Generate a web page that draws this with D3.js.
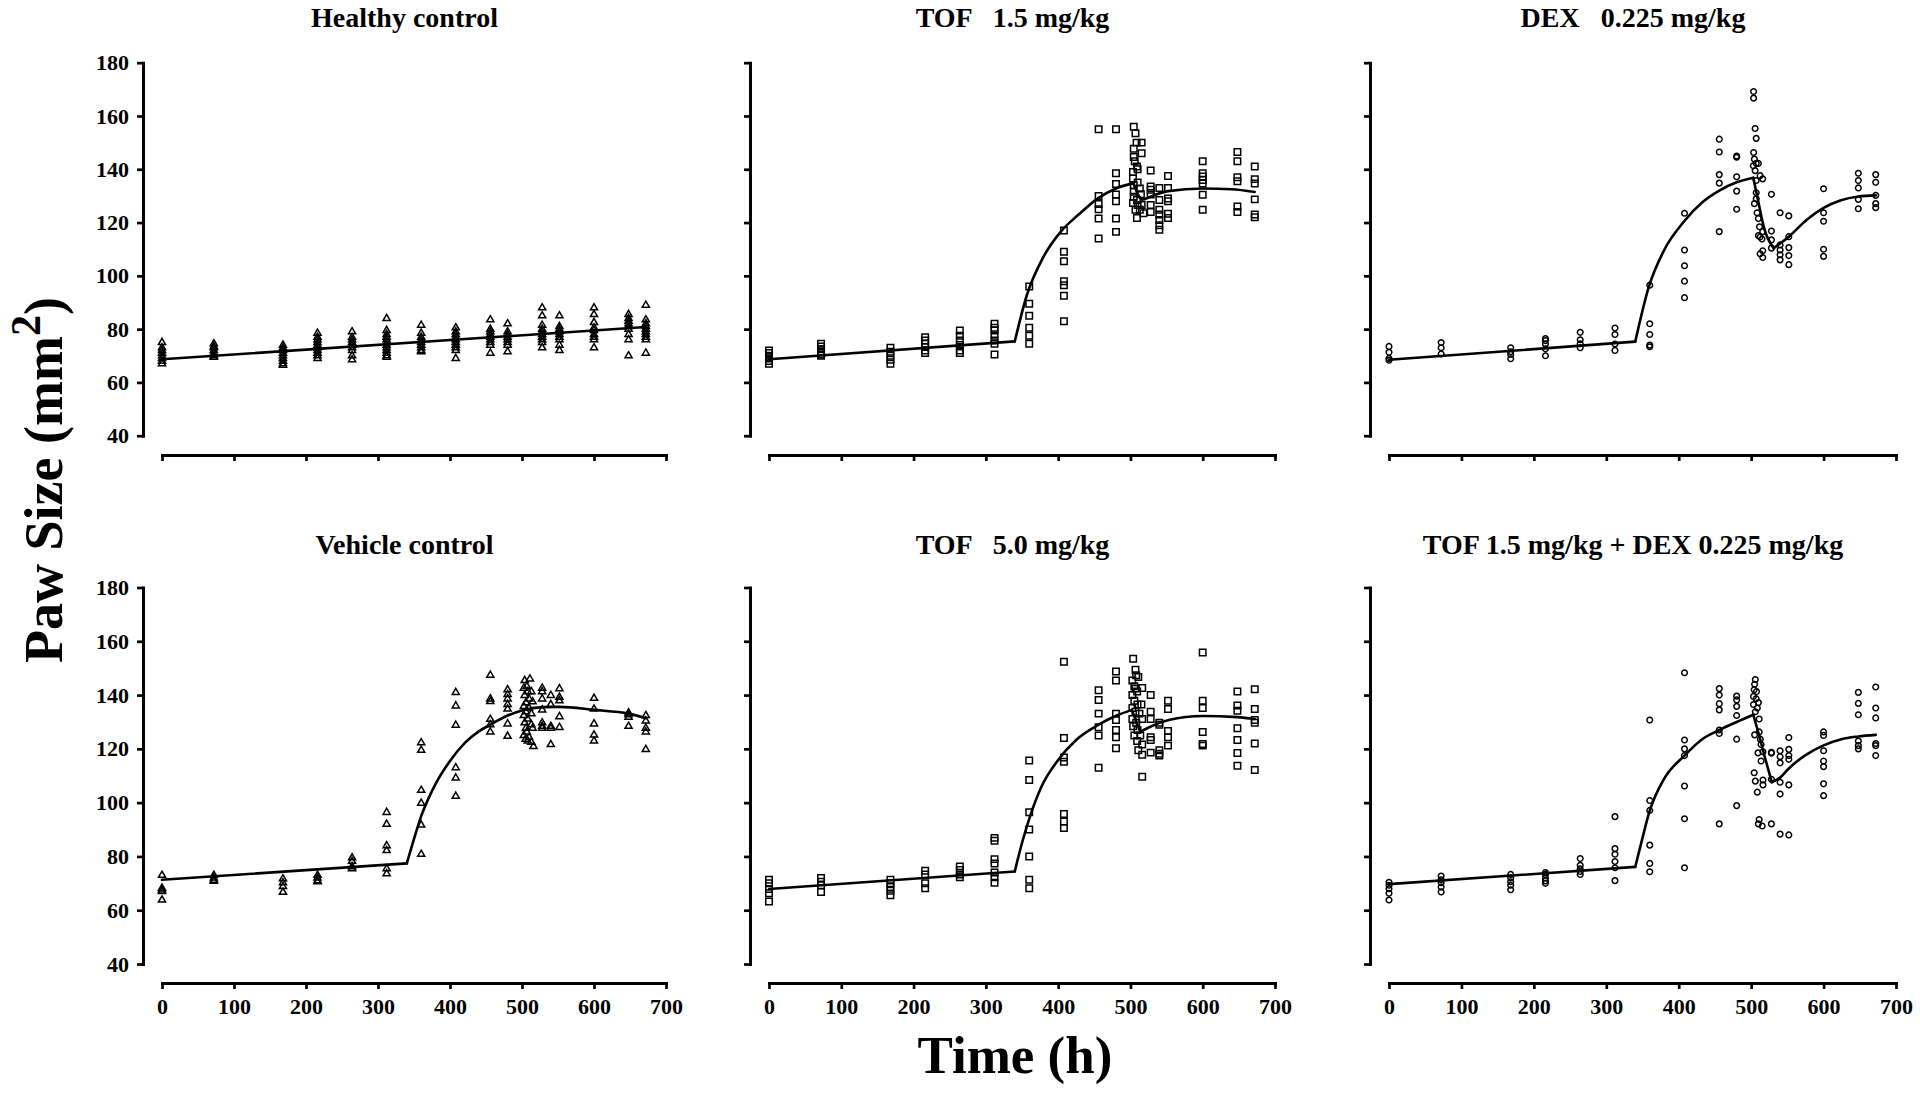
<!DOCTYPE html>
<html><head><meta charset="utf-8">
<script src="https://cdn.jsdelivr.net/npm/d3@7"></script>
<style>html,body{margin:0;padding:0;background:#fff;}svg{display:block;}</style>
</head><body>
<svg id="chart" width="1920" height="1093"></svg>
<script>
// ---------------- DATA ----------------
const xTicks = [0, 100, 200, 300, 400, 500, 600, 700];
const yTicks = [40, 60, 80, 100, 120, 140, 160, 180];
const panelTitles = ["Healthy control", "TOF   1.5 mg/kg", "DEX   0.225 mg/kg",
                     "Vehicle control", "TOF   5.0 mg/kg", "TOF 1.5 mg/kg + DEX 0.225 mg/kg"];
const xLabel = "Time (h)";
const yLabelMain = "Paw Size (mm";
const yLabelSup = "2";

// observations: [time, [paw sizes]]
const healthyObs = [
  [0,[75,73,72,71,70,69,68,67]],
  [72,[74.5,73.5,73,72,71,70,69.5]],
  [168,[74,73,72,71,70,69,68,67,66.5]],
  [216,[78.5,77,76,75,74,73,72,71,70,69]],
  [264,[79,77,76,75,74,73,72,70,68.5]],
  [312,[84,79.5,78,77,76,75,74,73,72,71,70,69.5]],
  [360,[81.5,78.5,77,76,75,74,73,72,71.5]],
  [408,[80.5,79,78,77,76,75,74,73,72,69]],
  [456,[83.5,80,79,78,77,76,75,74,71]],
  [480,[82,79,78,77,76,75,74,71.5]],
  [528,[88,85,81.5,80,79,78,77,76,75,73]],
  [552,[85,81,80,79,78,77,76,74,72]],
  [600,[88,85.5,82.5,80.5,79.5,78,77,76,73]],
  [648,[85.5,84,83,82,81,80,78,76,70]],
  [672,[89,83.5,82,81,80,79,78,77,76,71]]
];
const healthyFit = [[0,68.7],[672,80.8]];
const healthyKinks = [];

const tof15Obs = [
  [0,[72,71,70,69,68,67]],
  [72,[74.5,73.5,72.5,71.5,70.5,70]],
  [168,[73,71.5,70,68.5,67]],
  [216,[77,75.7,74.5,73.3,72,71]],
  [264,[79.5,77.5,75.7,74,72,71]],
  [312,[82,80.5,79.5,77.5,75.7,74.5,70.5]],
  [360,[96,89.5,85,80.5,77.5,74.5]],
  [408,[117,109,105.5,98,96.5,92.5,83]],
  [456,[155,130,127,125,121.5,114]],
  [480,[155,138.5,134.5,130.5,128,121.5,116.5]],
  [503.5,[139,136.5,127.3]],
  [504.6,[156,147.7,144.6,134,131.6,129.7]],
  [506,[143]],
  [507,[153.5,124.8]],
  [508.5,[150]],
  [509,[141,128.5,121.7]],
  [510,[140,135,126.6]],
  [513,[132.8,124.8]],
  [514.5,[130.6]],
  [515.5,[150,146,126.6]],
  [518,[123.5]],
  [528,[139.5,133.5,132.3,130.5,126.6,124]],
  [540,[133,128.5,124.8,123,121,119,117.3]],
  [552,[137.5,133,129,128,123.3,121.7]],
  [600,[143,138.5,137.3,136,134.7,130.4,124.8]],
  [648,[146.5,143,137,135.5,126,124]],
  [672,[141,136.3,134.7,128.7,123,122]]
];
const tof15Fit = [[0,68.7],[340,75.4],[357,93],[379,106.8],[404,116.7],[428,122.9],[455,129.1],
  [480,132.8],[504,134.8],[510,130.8],[516,128.6],[530,130],[552,131.8],[600,132.8],[640,132.5],[672,131.5]];
const tof15Kinks = [340, 504];

const dexObs = [
  [0,[73.5,71.3,69,68.3]],
  [72,[75,73,70.7]],
  [168,[73,71.5,70.5,68.9]],
  [216,[76.5,75.7,74.4,72.6,70]],
  [264,[78.8,76,74.5,73]],
  [312,[80.4,78,74.4,72]],
  [360,[96.5,82,78,74,73.4]],
  [408,[123.5,109.7,103.8,98,91.8]],
  [456,[151.3,146.5,138,134.8,116.6]],
  [480,[145,144.5,137.2,131.8,125]],
  [503,[141.3]],
  [503.4,[169.2,166.7,146.3]],
  [504.5,[143.8,127.1]],
  [505.5,[155.3,139.5]],
  [507,[151.6,142.2,135.8,131.2,128.9]],
  [508.2,[123.7]],
  [510,[142.2,121.5,115.1]],
  [511.5,[118.4]],
  [512.4,[137.6,114.6,108.3]],
  [515,[113.8]],
  [516,[136.4,116.6,106.9,109.4]],
  [528,[130.6,116.8,113.5,110.4]],
  [540,[123.7,111.6,109.7,107.9,106]],
  [552,[122.5,114.7,110.6,107.6,104.2]],
  [600,[132.7,123.7,120.5,110,107.3]],
  [648,[138.5,135.8,133,128.7,125.2]],
  [672,[138,135.1,130.2,127.1,125.6]]
];
const dexFit = [[0,68.5],[340,75.3],[359,96.1],[380,109.7],[407,120.3],[433,127.7],[456,132],[480,135.1],
  [503,136.8],[510,127.7],[518,117.8],[531,110.4],[552,114.7],[576,120.9],[600,125.5],[623,128.3],
  [648,129.8],[672,130.2]];
const dexKinks = [340, 503, 531];

const vehicleObs = [
  [0,[73,68.2,67.5,67,63.8]],
  [72,[73,72,71.2,70.8]],
  [168,[71.7,70.2,68.8,66.7]],
  [216,[73,72,71,70.6]],
  [264,[79.5,78.2,76.2,75.4]],
  [312,[96.4,92,84,82.2,75.4,73.6]],
  [360,[122.3,119.5,104.6,99.8,91.7,80.8]],
  [408,[141,136,128.8,113,109.2,102.4]],
  [456,[147.4,138.6,137.6,131,129,126.3]],
  [480,[142,140.2,138.6,136.5,134.8,129.3,124.7]],
  [502.5,[142.6,135.8,132.4,125]],
  [503.7,[145.4,139.9,129.7]],
  [505,[123.6]],
  [505.5,[137.2,133.8,127.7]],
  [506.7,[143.3,126.3]],
  [508,[141.3,131.1,122.9]],
  [509.8,[138.6,135.2,124.3]],
  [511,[146]],
  [513,[141.3,133.1,129,122.5]],
  [514.7,[137.5,127.7]],
  [516,[120.9]],
  [528,[142.6,141.3,138.6,134.5,129.7,128.4,127.7]],
  [540,[139.9,136.5,128.4,127.7,121.6]],
  [552,[142.4,139.2,137.9,132,128]],
  [600,[138.8,134.8,129.3,125.2,122.9]],
  [648,[133.4,132.7,131.8,128.4]],
  [672,[132.4,130.4,127.7,126.3,119.8]]
];
const vehicleFit = [[0,71.3],[340,77.4],[350,86.5],[360,95],[370,101.5],[380,107],[400,115.5],[421,122.3],
  [440,126.5],[456,129],[480,132.4],[500,134.3],[528,135.5],[552,135.6],[600,134.5],[648,133.1],[672,131.4]];
const vehicleKinks = [340];

const tof50Obs = [
  [0,[71.3,70,67.9,66.3,63.2]],
  [72,[72,70.6,69.3,66.8]],
  [168,[71.3,70,68.6,67.2,65.6]],
  [216,[74.7,73.3,70,68.2]],
  [264,[76.3,75,73.3,72.3]],
  [312,[86.9,85.8,79,77.4,74,72.3,70.2]],
  [360,[115.7,108.4,96.4,90,80,71.3,68.2]],
  [408,[152.4,124,116.8,115.2,95.8,93,90.6]],
  [456,[141.8,138.2,133.1,128,125,113]],
  [480,[148.8,145.4,133.1,130.7,127,124.3,120.2]],
  [502.7,[145.4,140,135.2,131.1]],
  [503.8,[153.5,128.4]],
  [505.4,[143.3,137.9,125]],
  [507,[149.4,142.4,133.8]],
  [508,[147.4,129.7]],
  [509.3,[141.3,122.9]],
  [509.8,[136.5,127]],
  [510.9,[146.7,119.5]],
  [512.5,[133.1]],
  [513.6,[125]],
  [515.2,[136.5]],
  [516.3,[142.6,131.1,121.6,117.8,109.6]],
  [528,[140,133.8,131.1,124.3,123.3,118.6]],
  [540,[129.7,129,119.5,118.2,117.5]],
  [552,[137.9,134.8,126.6,124.3,121.2]],
  [600,[155.8,137.9,135.2,126.3,121.8,121.2]],
  [648,[141.3,136.1,134.2,127.7,123.3,118.5,113.7]],
  [672,[142.2,134.8,130.7,129.7,122,112.1]]
];
const tof50Fit = [[0,67.9],[340,74.4],[350,85],[360,94],[377,106],[399,115.5],[426,123.6],[456,129],
  [481,132.4],[502,134.5],[513.6,126.3],[529,128.4],[553,130.7],[600,132.2],[648,131.8],[672,131.1]];
const tof50Kinks = [340, 502, 513.6];

const comboObs = [
  [0,[70.4,69.3,68,66.3,63.8]],
  [72,[72.7,71.3,70.2,68.6,66.8]],
  [168,[73.3,72,70.6,69.3,67.6]],
  [216,[74,73.3,72,70.9,70]],
  [264,[79.2,76.7,75.4,74.4,73.3]],
  [312,[94.8,82.9,80.8,78.1,75.8,71]],
  [360,[130.7,100.8,97.1,84.2,77.4,74.3]],
  [408,[148.3,123.3,120,117.5,106.2,94,75.8]],
  [456,[142.4,140,136.8,134.5,127,125.7,92.1]],
  [480,[139.6,138.2,135.8,132.4,123.6,98.9]],
  [503.2,[139.5,136.5]],
  [504.2,[142,111.1]],
  [504.8,[144,125.2]],
  [505.8,[145.8,133.8,108]],
  [506.9,[138.6]],
  [507.4,[141.3]],
  [508.5,[135.2,103.9]],
  [509.5,[118.5]],
  [510,[137.2,92.1]],
  [511.1,[131.1,126.3,93.7]],
  [512.7,[123.6]],
  [513.7,[121.6,115.5]],
  [515.3,[91.3]],
  [516.3,[118.9,108.4,106.6]],
  [528,[118.7,118.4,108.7,92.1]],
  [540,[119.3,117.1,114.8,107.6,103.2,88.3]],
  [552,[124.2,119.8,117.5,116.1,106.6,88]],
  [600,[126.3,125,119.3,115.5,113.4,107,102.6]],
  [648,[141,136.9,132.7,122.9,121.2,120]],
  [672,[143,135.2,131.5,122,121.2,117.5]]
];
const comboFit = [[0,69.7],[340,76.1],[350,86.9],[360,97],[379,108.5],[408,117.5],[432,123.5],[456,127],
  [480,130],[503,132.7],[511,125],[519,116.8],[528.5,107.6],[540,109.3],[552,112.7],[574,117.5],
  [600,121.3],[624.6,123.6],[648,124.6],[672,125.2]];
const comboKinks = [340, 503, 528.5];

// ---------------- LAYOUT ----------------
const FONT = "'Liberation Serif','Times New Roman',Times,serif";
const cols = [{axisX:143, x0:162, x1:666}, {axisX:750, x0:769, x1:1275}, {axisX:1370, x0:1389, x1:1896}];
const rows = [{yTop:62.7, yBot:435.7, xAxisY:455, titleY:27}, {yTop:587.5, yBot:964, xAxisY:983, titleY:554}];

const panels = [
  {obs: healthyObs, fit: healthyFit, kinks: healthyKinks, sym: "triangle", col:0, row:0},
  {obs: tof15Obs, fit: tof15Fit, kinks: tof15Kinks, sym: "square", col:1, row:0},
  {obs: dexObs, fit: dexFit, kinks: dexKinks, sym: "circle", col:2, row:0},
  {obs: vehicleObs, fit: vehicleFit, kinks: vehicleKinks, sym: "triangle", col:0, row:1},
  {obs: tof50Obs, fit: tof50Fit, kinks: tof50Kinks, sym: "square", col:1, row:1},
  {obs: comboObs, fit: comboFit, kinks: comboKinks, sym: "circle", col:2, row:1}
];

const symbolGen = {
  triangle: d3.symbol().type(d3.symbolTriangle).size(22)(),
  square: d3.symbol().type(d3.symbolSquare).size(42)(),
  circle: d3.symbol().type(d3.symbolCircle).size(25)()
};

const svg = d3.select("#chart");
svg.append("rect").attr("width", 1920).attr("height", 1093).attr("fill", "#fff");

panels.forEach((p, i) => {
  const c = cols[p.col], r = rows[p.row];
  const x = d3.scaleLinear().domain([0, 700]).range([c.x0, c.x1]);
  const y = d3.scaleLinear().domain([40, 180]).range([r.yBot, r.yTop]);
  const g = svg.append("g");

  // title
  g.append("text")
    .attr("x", (c.axisX + c.x1) / 2).attr("y", r.titleY)
    .attr("text-anchor", "middle")
    .attr("xml:space", "preserve").style("white-space", "pre")
    .attr("font-family", FONT).attr("font-weight", "bold").attr("font-size", 28)
    .text(panelTitles[i]);

  // y axis
  const gy = g.append("g").attr("transform", `translate(${c.axisX},0)`)
    .call(d3.axisLeft(y).tickValues(yTicks).tickSize(6).tickSizeOuter(0).tickPadding(8)
      .tickFormat(p.col === 0 ? d3.format("d") : () => ""));
  // x axis
  const gx = g.append("g").attr("transform", `translate(0,${r.xAxisY})`)
    .call(d3.axisBottom(x).tickValues(xTicks).tickSize(6).tickSizeOuter(0).tickPadding(9)
      .tickFormat(p.row === 1 ? d3.format("d") : () => ""));
  [gy, gx].forEach(ax => {
    ax.select(".domain").attr("stroke", "#000").attr("stroke-width", 3).attr("stroke-linecap", "square");
    ax.selectAll(".tick line").attr("stroke", "#000").attr("stroke-width", 2.7);
    ax.selectAll(".tick text").attr("fill", "#000").attr("font-family", FONT)
      .attr("font-weight", "bold").attr("font-size", 22);
  });

  // observations
  const pts = [];
  p.obs.forEach(([t, vals]) => vals.forEach(v => pts.push([t, v])));
  g.append("g").selectAll("path").data(pts).join("path")
    .attr("d", symbolGen[p.sym])
    .attr("transform", d => `translate(${x(d[0])},${y(d[1])})`)
    .attr("fill", "none").attr("stroke", "#000").attr("stroke-width", 1.5);

  // model fit, split into smooth segments at kinks
  const bounds = [0, ...p.kinks, 1e9];
  const line = d3.line().x(d => x(d[0])).y(d => y(d[1])).curve(d3.curveMonotoneX);
  for (let k = 0; k < bounds.length - 1; k++) {
    const seg = p.fit.filter(d => d[0] >= bounds[k] && d[0] <= bounds[k + 1]);
    if (seg.length < 2) continue;
    g.append("path").attr("d", line(seg))
      .attr("fill", "none").attr("stroke", "#000").attr("stroke-width", 2.6)
      .attr("stroke-linejoin", "round").attr("stroke-linecap", "round");
  }
});

// axis titles
svg.append("text")
  .attr("x", 1015).attr("y", 1073).attr("text-anchor", "middle")
  .attr("font-family", FONT).attr("font-weight", "bold").attr("font-size", 53)
  .text(xLabel);

const yl = svg.append("text")
  .attr("transform", "translate(62,480) rotate(-90)").attr("text-anchor", "middle")
  .attr("font-family", FONT).attr("font-weight", "bold").attr("font-size", 54);
yl.append("tspan").text(yLabelMain);
yl.append("tspan").attr("font-size", 42).attr("dy", -22).text(yLabelSup);
yl.append("tspan").attr("dy", 22).text(")");
</script>
</body></html>
